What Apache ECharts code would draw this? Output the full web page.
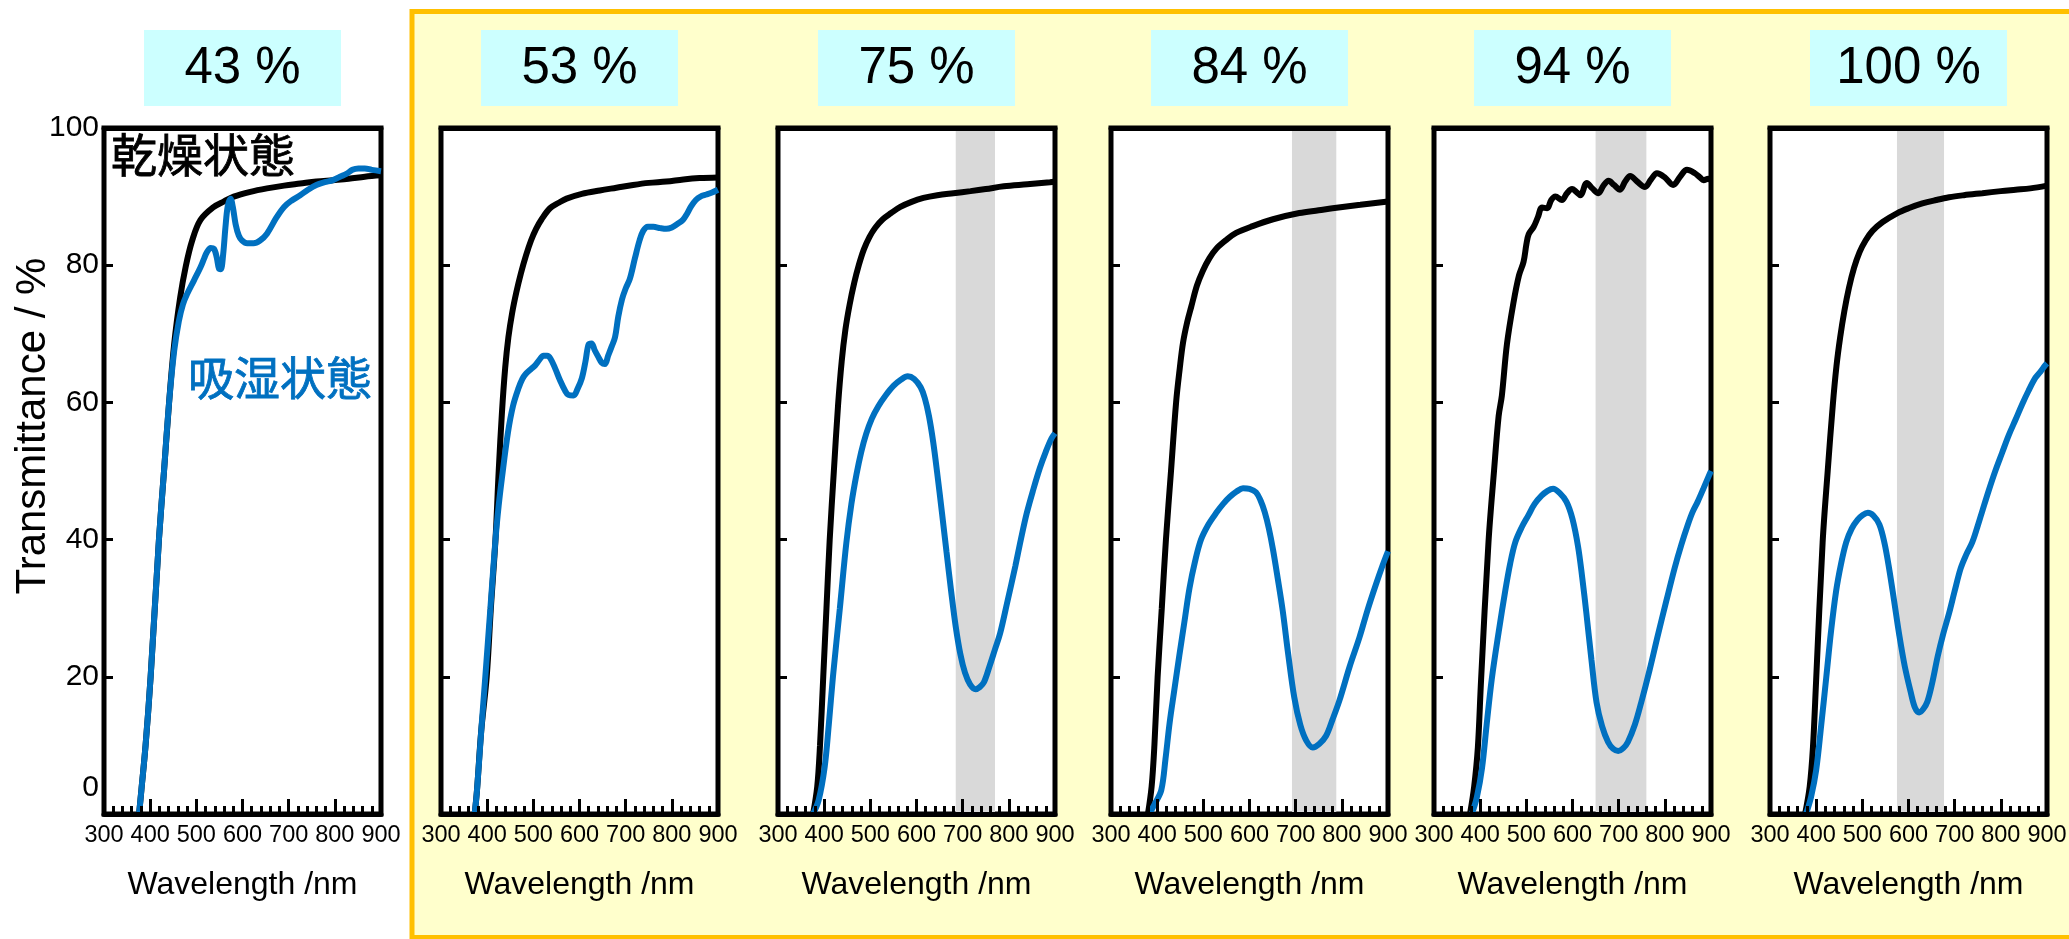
<!DOCTYPE html>
<html>
<head>
<meta charset="utf-8">
<script src="https://cdn.jsdelivr.net/npm/echarts@6/dist/echarts.min.js"></script>
<style>
  html, body { margin: 0; padding: 0; background: #fff; }
  #chart { width: 2069px; height: 939px; }
</style>
</head>
<body>
<div id="chart"></div>
<script>
// Transmittance spectra: dry state (black) vs. humidified state (blue)
// at six relative-humidity conditions.

const humidityLabels = ['43 %', '53 %', '75 %', '84 %', '94 %', '100 %'];
const wavelengthAxis = [300, 900, 100];      // min, max, major step (nm)
const transmittanceAxis = [0, 100, 20];      // min, max, step (%)
const bandNm = [null, null, [685, 770], [692, 788], [650, 760], [575, 677]];

// [wavelength nm, transmittance %]
const dry43 = [[376,0],[381,3.5],[390,10],[401,20],[419,40],[430,50],[441,60],[452,68.5],[465,75.3],[477,79.8],[491,83.6],[509,86.6],[538,88.5],[560,89.3],[581,90],[617,90.7],[653,91.2],[690,91.6],[725,91.9],[760,92.2],[796,92.4],[830,92.6],[865,92.9],[900,93.1]];
const wet43 = [[376,0],[381,3.5],[390,10],[401,20],[419,40],[430,50],[441,60],[452,67.5],[462,71.8],[471,74.3],[480,75.8],[495,77.8],[509,79.7],[517,81],[523,81.9],[531,82.5],[538,82.4],[544,81.2],[549,79.5],[553,79.4],[558,81.5],[563,85.5],[568,88.6],[574,89.7],[579,88.5],[585,86],[592,84.3],[599,83.6],[610,83.2],[624,83.2],[638,83.6],[653,84.6],[674,87],[690,88.5],[706,89.4],[725,90.2],[742,91],[760,91.7],[778,92.1],[796,92.4],[811,92.9],[825,93.3],[838,93.9],[851,94.1],[865,94.1],[880,93.9],[900,93.7]];

const dry53 = [[373,0],[378,3.5],[387,12],[399,20],[408,30],[418,40],[425,50],[432,58.5],[439,65],[446,69.5],[454,73],[463,76],[473,78.8],[484,81.4],[495,83.6],[506,85.3],[518,86.7],[536,88.3],[555,89.1],[572,89.7],[605,90.4],[644,90.9],[680,91.3],[716,91.7],[750,92],[788,92.2],[825,92.5],[860,92.7],[900,92.8]];
const wet53 = [[373,0],[378,3.5],[387,12],[396,20],[407,30],[418,40],[425,45],[432,49],[445,55.6],[456,59.5],[468,62.1],[476,63.4],[483,64.1],[494,64.8],[504,65.4],[513,66.2],[522,66.8],[530,66.8],[537,66.4],[547,65],[558,63.2],[568,61.8],[576,61.1],[587,61],[596,62],[605,63.5],[613,66],[620,68.5],[626,68.6],[633,67.6],[641,66.6],[648,65.8],[655,65.6],[662,66.8],[670,68.2],[677,69.5],[684,72.5],[692,75],[700,76.6],[709,78],[720,81],[730,83.6],[738,85],[748,85.6],[760,85.6],[775,85.4],[788,85.3],[800,85.5],[812,86],[824,86.6],[833,87.5],[842,88.6],[852,89.5],[862,90],[875,90.3],[887,90.6],[900,91]];

const dry75 = [[376,0],[385,4],[391,10],[398,20],[405,30],[412,40],[421,50],[430,59.5],[438,66],[446,70.6],[455,74.2],[465,77.4],[475,80],[486,82.3],[498,84.1],[511,85.5],[527,86.7],[545,87.6],[565,88.5],[588,89.2],[615,89.8],[645,90.2],[680,90.5],[717,90.8],[750,91.1],[789,91.5],[840,91.8],[889,92.1],[900,92.2]];
const wet75 = [[376,0],[388,2],[401,6.8],[410,13],[419,20],[434,30],[448,39.5],[459,45.2],[470,49.5],[480,52.7],[491,55.4],[503,57.6],[517,59.4],[533,61],[550,62.4],[566,63.3],[581,63.8],[595,63.4],[609,62.2],[618,60.6],[627,58],[636,54.3],[645,49.6],[655,44],[665,38.2],[675,32.5],[685,27.3],[695,23.3],[705,20.6],[716,18.9],[728,18.2],[737,18.5],[746,19.2],[758,21.5],[770,24],[781,26.3],[797,31],[814,36.1],[826,40],[839,43.9],[853,47.3],[867,50.4],[880,52.8],[892,54.7],[900,55.5]];

const dry84 = [[380,0],[388,4],[394,10],[401,20],[410,30],[419,40],[430,50],[441,60],[449,65],[456,68.7],[465,71.7],[474,74],[486,77],[499,79.2],[513,81],[528,82.4],[550,83.7],[571,84.7],[607,85.7],[651,86.7],[708,87.6],[750,88],[780,88.3],[840,88.8],[900,89.3]];
const wet84 = [[383,0],[395,1.5],[409,3.5],[418,8],[427,13.3],[437,18],[448,23.1],[459,28],[470,32.9],[482,36.8],[495,40],[511,42.2],[528,43.9],[543,45.2],[557,46.2],[572,47],[586,47.5],[600,47.4],[614,46.9],[624,45.7],[633,44],[642,41.6],[651,38.5],[661,34.4],[672,29.6],[684,23.2],[697,17],[710,13],[723,10.7],[737,9.7],[751,10.2],[766,11.4],[780,13.8],[795,16.6],[817,21.5],[838,25.7],[856,29.8],[874,33.5],[888,36.2],[900,38.3]];

const dry94 = [[378,0],[387,4],[395,9.7],[402,19.6],[418,39.6],[430,50],[440,58],[447,61],[458,68.5],[472,74.5],[484,78.5],[494,80.5],[500,83],[505,84.5],[516,85.6],[525,87],[534,88.4],[545,88.3],[554,89.5],[563,90],[577,89.5],[588,90.5],[599,91.1],[608,90.7],[617,90.2],[631,92],[643,91.2],[656,90.5],[667,91.6],[678,92.3],[690,91.7],[703,91],[714,92.2],[725,93],[740,92.2],[757,91.4],[770,92.5],[783,93.4],[800,92.8],[818,91.7],[833,92.9],[848,93.9],[865,93.4],[876,92.8],[884,92.4],[894,92.6],[900,92.4]];
const wet94 = [[382,0],[393,2.5],[404,6.7],[414,13],[425,19.6],[440,26.5],[454,32.4],[465,36.5],[476,39.6],[490,41.8],[504,43.5],[518,45.2],[533,46.4],[546,47.1],[558,47.4],[572,46.8],[587,45.5],[600,43],[612,39],[621,34.5],[630,29.3],[641,22.5],[652,16.3],[664,12.8],[677,10.5],[688,9.5],[699,9.2],[710,9.6],[720,10.5],[735,13],[749,16.3],[767,21],[785,26.1],[803,31],[821,35.8],[836,39.3],[850,42.2],[860,44],[871,45.5],[884,47.5],[896,49.4],[900,50]];

const dry100 = [[376,0],[386,4],[393,9.7],[400,19.6],[414,39.6],[425,50],[436,59.6],[444,65.3],[452,69.5],[461,73.3],[471,76.7],[482,79.6],[494,81.9],[507,83.6],[522,85],[544,86.3],[576,87.6],[600,88.3],[630,89],[660,89.5],[688,89.9],[720,90.2],[760,90.5],[800,90.8],[832,91],[864,91.2],[900,91.6]];
const wet100 = [[378,0],[389,2.5],[400,6.4],[411,13],[422,20],[432,26.5],[443,32.4],[454,36.5],[465,39.6],[477,41.6],[490,42.9],[501,43.6],[512,43.9],[524,43.5],[537,42.2],[548,39.5],[558,35.8],[569,31],[580,26.1],[592,21.5],[605,17.7],[614,15.5],[623,14.8],[632,15.3],[641,16.4],[652,19.3],[663,22.9],[675,26.2],[688,29.3],[700,32.5],[713,35.8],[725,37.8],[738,39.6],[749,41.8],[760,44.2],[774,47.2],[788,50],[803,52.7],[817,55.2],[832,57.5],[846,59.7],[860,61.7],[875,63.6],[886,64.5],[896,65.4],[900,65.7]];

const dryCurves = [dry43, dry53, dry75, dry84, dry94, dry100];
const wetCurves = [wet43, wet53, wet75, wet84, wet94, wet100];

// ---- layout ----
const FONT = '"Liberation Sans", Arial, Helvetica, sans-serif';
const CJK = '"Noto Sans CJK JP", "Noto Sans CJK SC", sans-serif';
const BLUE = '#0070C0';
const plotLeft = [104, 441, 778, 1111, 1434, 1770];
const plotTop = 128, plotW = 277, plotH = 686;

const grid = [], xAxis = [], yAxis = [], series = [];
const graphic = [];

// humidified group frame
graphic.push({
  type: 'rect', z: -10, silent: true,
  shape: { x: 412, y: 11.5, width: 1700, height: 926 },
  style: { fill: '#FFFFCC', stroke: '#FFC000', lineWidth: 5 }
});

plotLeft.forEach((left, i) => {
  grid.push({
    left: left, top: plotTop, width: plotW, height: plotH,
    show: true, backgroundColor: '#ffffff', borderColor: '#000', borderWidth: 5,
    outerBoundsMode: 'none', containLabel: false
  });

  // bottom wavelength axis
  xAxis.push({
    gridIndex: i, type: 'value', position: 'bottom', z: 5,
    min: wavelengthAxis[0], max: wavelengthAxis[1], interval: wavelengthAxis[2],
    axisLine: { show: true, onZero: false, lineStyle: { color: '#000', width: 5 } },
    axisTick: { show: true, inside: true, length: 15, lineStyle: { color: '#000', width: 3 } },
    minorTick: { show: true, splitNumber: 5, length: 8, lineStyle: { color: '#000', width: 3 } },
    splitLine: { show: false }, minorSplitLine: { show: false },
    axisLabel: { show: true, margin: 10, fontSize: 23.5, color: '#000', fontFamily: FONT, hideOverlap: false },
    name: 'Wavelength /nm', nameLocation: 'middle', nameGap: 55, nameMoveOverlap: false,
    nameTextStyle: { fontSize: 32, color: '#000', fontFamily: FONT }
  });
  // top frame edge
  xAxis.push({
    gridIndex: i, type: 'value', position: 'top', z: 5,
    min: wavelengthAxis[0], max: wavelengthAxis[1],
    axisLine: { show: true, onZero: false, lineStyle: { color: '#000', width: 5 } },
    axisTick: { show: false }, axisLabel: { show: false }, splitLine: { show: false }
  });

  yAxis.push({
    gridIndex: i, type: 'value', position: 'left', z: 5,
    min: transmittanceAxis[0], max: transmittanceAxis[1], interval: transmittanceAxis[2],
    axisLine: { show: false, onZero: false },
    axisTick: { show: true, inside: true, length: 9, lineStyle: { color: '#000', width: 3 } },
    splitLine: { show: false },
    axisLabel: {
      show: i === 0, margin: 5, fontSize: 30, color: '#000', fontFamily: FONT,
      formatter: v => (v === 0 ? '{lift|0}' : String(v)),
      rich: { lift: { fontSize: 30, color: '#000', fontFamily: FONT, padding: [0, 0, 52, 0] } }
    }
  });

  series.push({
    type: 'line', xAxisIndex: 2 * i, yAxisIndex: i, data: dryCurves[i],
    showSymbol: false, smooth: 0.35, z: 2,
    lineStyle: { color: '#000', width: 6 }, itemStyle: { color: '#000' }
  });
  const wet = {
    type: 'line', xAxisIndex: 2 * i, yAxisIndex: i, data: wetCurves[i],
    showSymbol: false, smooth: 0.35, z: 3,
    lineStyle: { color: BLUE, width: 6 }, itemStyle: { color: BLUE }
  };
  if (bandNm[i]) {
    wet.markArea = {
      silent: true, z: 1,
      itemStyle: { color: '#D9D9D9', borderWidth: 0 },
      label: { show: false },
      data: [[{ xAxis: bandNm[i][0] }, { xAxis: bandNm[i][1] }]]
    };
  }
  series.push(wet);

  // humidity title box
  const cx = left + plotW / 2;
  graphic.push({
    type: 'rect', z: 1, silent: true,
    shape: { x: cx - 98.5, y: 30, width: 197, height: 76 },
    style: { fill: '#CCFFFF' }
  });
  graphic.push({
    type: 'text', z: 2, silent: true, x: cx, y: 69,
    style: { text: humidityLabels[i], fill: '#000', fontSize: 51, fontFamily: FONT, align: 'center', verticalAlign: 'middle' }
  });
});

// state labels and vertical axis title
graphic.push({
  type: 'text', z: 10, silent: true, x: 111, y: 155,
  style: { text: '乾燥状態', fill: '#000', fontSize: 46, fontFamily: CJK, align: 'left', verticalAlign: 'middle', stroke: '#000', lineWidth: 0.8 }
});
graphic.push({
  type: 'text', z: 10, silent: true, x: 188, y: 378,
  style: { text: '吸湿状態', fill: BLUE, fontSize: 46, fontFamily: CJK, align: 'left', verticalAlign: 'middle', stroke: BLUE, lineWidth: 0.8 }
});
graphic.push({
  type: 'text', z: 10, silent: true, x: 33, y: 426, rotation: Math.PI / 2,
  style: { text: 'Transmittance / %', fill: '#000', fontSize: 42, fontFamily: FONT, align: 'center', verticalAlign: 'middle' }
});

const chart = echarts.init(document.getElementById('chart'), null, { renderer: 'canvas' });
chart.setOption({
  animation: false,
  backgroundColor: '#ffffff',
  grid: grid,
  xAxis: xAxis,
  yAxis: yAxis,
  series: series,
  graphic: { elements: graphic }
});
</script>
</body>
</html>
